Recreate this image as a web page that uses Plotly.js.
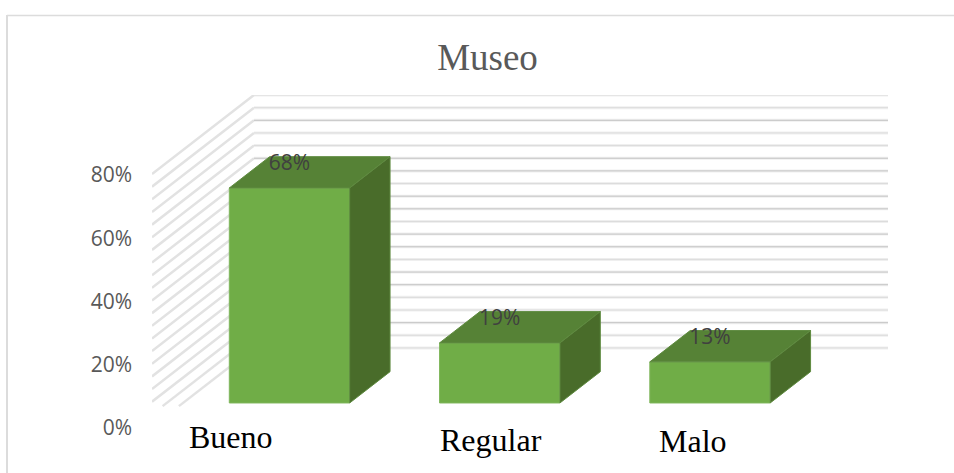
<!DOCTYPE html>
<html>
<head>
<meta charset="utf-8">
<script src="https://cdn.plot.ly/plotly-3.0.1.min.js"></script>
<style>html,body{margin:0;padding:0;background:#fff}#chart{width:954px;height:473px}</style>
</head>
<body>
<div id="chart"></div>
<script>
// Survey results for the museum, in percent
const categories = ['Bueno', 'Regular', 'Malo'];
const shares = [68, 19, 13];
const axisTicks = [0, 20, 40, 60, 80];
const gridLevels = [80, 76, 72, 68, 64, 60, 56, 52, 48, 44, 40, 36, 32, 28, 24, 20, 16, 12, 8, 4, 0];
const strongLevels = [72, 60, 56, 48, 44, 36, 32, 24, 20, 8];

// Oblique projection of the 3-D box, in axis units
const DEPTH_X = 0.485;     // sideways shift of the full floor depth
const DEPTH_Y = 25;        // upward shift of the full floor depth
const BAR_NEAR = 0.304;    // depth of the bar front faces
const BAR_FAR = 0.70;      // depth of the bar back faces
const BAR_WIDTH = 0.5725;
const WALL_CUT = 6.6;      // side wall lines stop at this height on screen
const xRange = [-0.5065, 2.994];
const yRange = [0, 105];

const xs = categories.map((_, i) => i);
const shift = d => [d * DEPTH_X, d * DEPTH_Y];
const [nx, ny] = shift(BAR_NEAR);
const [fx, fy] = shift(BAR_FAR);

// Back wall: soft band plus a thin line for each level
function backWall(levels) {
  const x = [], y = [];
  levels.forEach(v => {
    x.push(xRange[0] + DEPTH_X, xRange[1], null);
    y.push(v + DEPTH_Y, v + DEPTH_Y, null);
  });
  return { x, y };
}
// Side wall: the same levels running from the front edge to the back wall
function sideWall(levels) {
  const x = [], y = [];
  levels.forEach(v => {
    const t = Math.max(0, (WALL_CUT - v) / DEPTH_Y);
    x.push(xRange[0] + t * DEPTH_X, xRange[0] + DEPTH_X, null);
    y.push(v + t * DEPTH_Y, v + DEPTH_Y, null);
  });
  return { x, y };
}
const lineTrace = (pts, color, width) => ({
  type: 'scatter', mode: 'lines', x: pts.x, y: pts.y, hoverinfo: 'skip',
  showlegend: false, line: { color, width }, connectgaps: false, xaxis: 'x', yaxis: 'y'
});

const lightLevels = gridLevels.filter(v => !strongLevels.includes(v));
const traces = [
  lineTrace(sideWall(gridLevels), '#e2e2e2', 2.5),
  lineTrace(backWall(gridLevels), '#efefef', 3),
  lineTrace(backWall(lightLevels), '#dcdcdc', 1),
  lineTrace(backWall(strongLevels), '#c4c4c4', 1)
];

// Front faces
traces.push({
  type: 'bar', x: xs.map(x => x + nx), y: shares, base: shares.map(() => ny),
  width: BAR_WIDTH, marker: { color: '#70ad47', line: { color: '#7fb65c', width: 1 } },
  hoverinfo: 'skip', showlegend: false, xaxis: 'x2', yaxis: 'y2'
});

// Top and side faces
function face(cornersX, cornersY, color) {
  return {
    type: 'scatter', mode: 'lines', fill: 'toself', fillcolor: color,
    x: cornersX, y: cornersY, line: { color: '#5f8b40', width: 1 },
    hoverinfo: 'skip', showlegend: false, xaxis: 'x2', yaxis: 'y2'
  };
}
shares.forEach((v, i) => {
  const l = xs[i] + nx - BAR_WIDTH / 2, r = l + BAR_WIDTH;
  const dx = fx - nx;
  const yn = v + ny, yf = v + fy;
  traces.push(face([l, r, r + dx, l + dx, l], [yn, yn, yf, yf, yn], '#568236'));
  traces.push(face([r, r + dx, r + dx, r, r], [yn, yf, fy, ny, yn], '#496c2a'));
});

// Value labels sit above the front edge of each bar
traces.push({
  type: 'scatter', mode: 'text', x: xs.map(x => x + nx), y: shares.map(v => v + ny + 7.4),
  text: shares.map(v => v + '%'), textposition: 'middle center',
  textfont: { family: 'Open Sans', size: 21, color: '#404040' },
  hoverinfo: 'skip', showlegend: false, xaxis: 'x2', yaxis: 'y2'
});

const plotLeft = 152, plotTop = 95, plotW = 736, plotH = 332;
const paperX = p => (p - plotLeft) / plotW;
const paperY = p => (plotTop + plotH - p) / plotH;

// Category captions are placed by hand under each bar
const captionX = [231, 490.5, 692.5];
const captionY = [437, 440, 441];

const layout = {
  width: 954, height: 473, autosize: false,
  paper_bgcolor: '#ffffff', plot_bgcolor: 'rgba(0,0,0,0)', showlegend: false,
  margin: { l: plotLeft, t: plotTop, r: 954 - plotLeft - plotW, b: 473 - plotTop - plotH, pad: 0 },
  title: {
    text: 'Museo', xref: 'container', yref: 'container',
    x: 487.5 / 954, y: 1 - 57.5 / 473, xanchor: 'center', yanchor: 'middle',
    font: { family: 'Liberation Serif', size: 37, color: '#595959' }
  },
  xaxis: { range: xRange, visible: false, fixedrange: true },
  xaxis2: { range: xRange, visible: false, overlaying: 'x', fixedrange: true },
  yaxis: {
    range: yRange, tickvals: axisTicks, ticktext: axisTicks.map(v => v + '%'),
    showgrid: false, zeroline: false, showline: false, ticks: '', ticklabelstandoff: 19,
    ticklabelshift: 1,
    tickfont: { family: 'Open Sans', size: 21, color: '#595959' }, fixedrange: true
  },
  yaxis2: { range: yRange, visible: false, overlaying: 'y', fixedrange: true },
  barmode: 'overlay',
  annotations: categories.map((c, i) => ({
    text: c, xref: 'paper', yref: 'paper', x: paperX(captionX[i]), y: paperY(captionY[i]),
    xanchor: 'center', yanchor: 'middle', showarrow: false,
    font: { family: 'Liberation Serif', size: 32, color: '#000000' }
  })),
  shapes: [
    { type: 'line', xref: 'paper', yref: 'paper', x0: paperX(7), x1: paperX(954), y0: paperY(15.5), y1: paperY(15.5), line: { color: '#dcdcdc', width: 1.5 } },
    { type: 'line', xref: 'paper', yref: 'paper', x0: paperX(7), x1: paperX(7), y0: paperY(15), y1: paperY(473), line: { color: '#dcdcdc', width: 2 } }
  ]
};

Plotly.newPlot('chart', traces, layout, { displayModeBar: false, staticPlot: true });
</script>
</body>
</html>
